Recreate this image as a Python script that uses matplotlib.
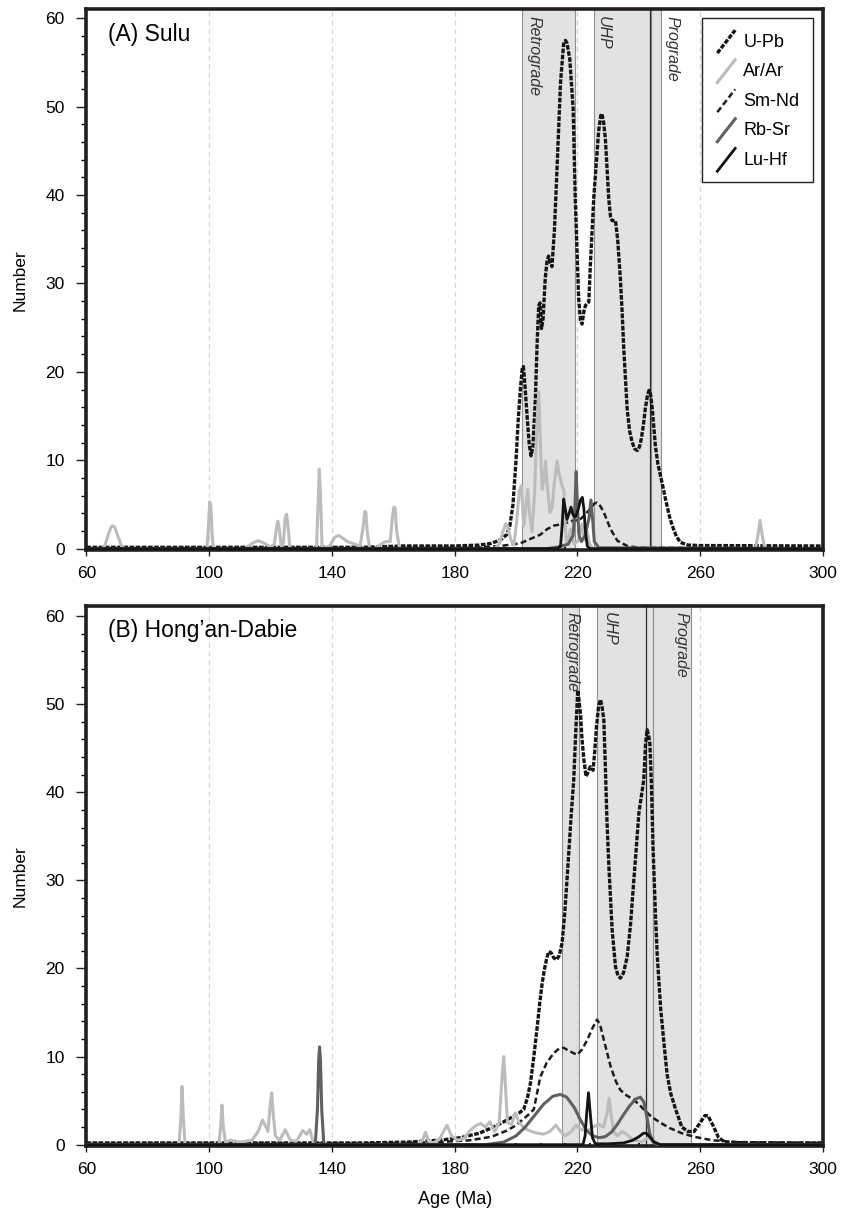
import matplotlib
matplotlib.use('Agg')
import matplotlib.pyplot as plt
from matplotlib.ticker import MultipleLocator
from matplotlib.lines import Line2D
from matplotlib.legend_handler import HandlerLine2D

plt.rcParams['font.family'] = ['Liberation Sans', 'DejaVu Sans']

# ---------------- (A) Sulu ----------------
sulu_upb_age = [60, 150, 163, 180, 188, 192, 195, 197, 198, 199, 200, 200.7, 201.4, 202.0, 202.4, 202.9,
                203.6, 204.3, 204.9, 205.5, 206.3, 206.9, 207.4, 207.8, 208.3, 208.8, 209.5, 210.1, 210.6,
                211.2, 211.7, 212.5, 213.4, 214.5, 215.5, 216.1, 216.6, 217.5, 218.6, 219.3, 220.4, 221.0,
                221.5, 222.1, 222.6, 223.7, 224.2, 225.3, 226.9, 227.6, 228.0, 228.5, 229.1, 230.2, 230.8,
                231.3, 232.4, 233.1, 234.0, 234.6, 235.1, 236.2, 237.0, 237.8, 238.6, 239.5, 240.2, 240.8,
                241.5, 242.1, 242.8, 243.3, 243.8, 244.4, 245.4, 246.2, 247.1, 248.7, 250.0, 250.9, 252.2,
                253.6, 256, 260, 300]
sulu_upb_n = [0.15, 0.15, 0.3, 0.3, 0.4, 0.6, 1.0, 1.6, 2.6, 5.0, 10.0, 14.5, 18.0, 20.3, 20.6, 18.5,
              15.0, 11.8, 10.5, 11.5, 17.0, 23.5, 27.5, 27.8, 24.9, 26.0, 30.5, 32.6, 33.1,
              32.3, 31.9, 36.0, 43.4, 52.8, 57.1, 57.5, 57.2, 55.4, 49.8, 39.6, 28.3, 25.8,
              25.4, 26.8, 27.5, 27.9, 32.0, 39.6, 47.2, 49.0, 49.2, 48.3, 46.4, 39.6, 37.5,
              37.1, 37.1, 35.0, 30.5, 26.5, 22.6, 15.8, 13.3, 12.1, 11.3, 11.1, 11.5, 12.4,
              14.0, 15.8, 17.3, 17.9, 17.5, 15.8, 11.6, 9.6, 8.2, 5.6, 3.6, 2.6, 1.4,
              0.7, 0.4, 0.35, 0.3]

sulu_smnd_age = [60, 185, 195, 199.2, 201.4, 204.7, 208, 210.1, 212.3, 215.5, 218.8, 220.5, 222.1, 224.2,
                 225.5, 226.4, 227.5, 228.6, 230.8, 233, 236.2, 240, 300]
sulu_smnd_n = [0.05, 0.1, 0.3, 0.5, 0.6, 1.1, 1.6, 2.2, 2.6, 2.8, 3.2, 3.2, 3.7, 4.5,
               5.1, 5.2, 4.8, 4.1, 2.2, 0.9, 0.3, 0.1, 0.05]

sulu_arar_age = [60, 65, 66, 67, 68, 68.6, 69.3, 70.3, 71.5, 72.5,
                 99.3, 99.8, 100.2, 100.6, 101.0, 101.4,
                 112, 114, 116, 118, 120, 121.3, 122.0, 122.4, 122.9, 123.5, 124.2, 124.8, 125.2, 125.6,
                 126.3, 127,
                 135, 135.6, 135.9, 136.3, 136.8, 138, 139.5, 141, 142.2, 143.5, 145, 147.5, 149.2, 150.2,
                 150.7, 151.1, 151.5, 152.3, 154, 156, 157.5, 159, 159.7, 160.2, 160.6, 161.1, 162, 163,
                 193, 194.5, 195.8, 196.6, 197.2, 198.3, 199.3, 200.2, 201.0, 201.7, 202.5, 203.1, 203.8,
                 204.4, 205.2, 206.0, 206.8, 207.4, 207.9, 208.5, 209.0, 209.6, 210.2, 211.0, 211.7, 212.5,
                 213.4, 214.0, 215.0, 215.6, 216.1, 216.6, 217.2, 217.7, 218.3, 219.0, 220.5, 221.5, 222.3,
                 223.2, 224.0, 225,
                 278, 278.8, 279.5, 280.2, 281, 300]
sulu_arar_n = [0, 0, 0.3, 1.4, 2.4, 2.6, 2.4, 1.4, 0.3, 0,
               0, 2.5, 5.3, 4.8, 1.5, 0,
               0, 0.6, 0.9, 0.6, 0.2, 0.5, 2.5, 3.1, 2.2, 0.3, 0.6, 3.5, 3.9, 3.0,
               0.2, 0,
               0, 6.0, 9.0, 6.0, 0.2, 0, 0.4, 1.3, 1.5, 1.2, 0.8, 0.5, 0.3, 2.5,
               4.2, 4.1, 2.0, 0, 0, 0.5, 0.8, 0.8, 3.5, 4.7, 4.6, 2.0, 0.1, 0,
               0, 0.5, 2.0, 2.8, 2.6, 1.0, 0.4, 3.0, 6.5, 7.1, 2.6, 4.5, 6.7,
               4.0, 1.9, 6.0, 14.0, 17.7, 12.0, 6.7, 7.5, 9.9, 7.0, 4.1, 4.5, 7.5,
               9.9, 8.5, 7.1, 6.5, 2.2, 0.5, 1.0, 2.2, 1.2, 0.5, 1.0, 2.8, 1.0,
               1.9, 0.5, 0,
               0, 1.5, 3.2, 1.5, 0, 0]

sulu_rbsr_age = [60, 210, 214, 217, 218.6, 219.2, 219.6, 220.0, 220.5, 221.3, 222.5, 223.8, 224.4, 224.9,
                 225.5, 227, 300]
sulu_rbsr_n = [0, 0, 0.2, 0.5, 1.5, 5.0, 8.7, 5.0, 1.5, 0.8, 1.5, 3.5, 5.5, 3.5,
               0.8, 0.1, 0]

sulu_luhf_age = [60, 213.5, 214.5, 215.0, 215.5, 215.9, 216.6, 217.3, 217.9, 218.4, 218.8, 219.4, 220.3,
                 221.0, 221.6, 222.1, 222.6, 223.2, 224, 300]
sulu_luhf_n = [0, 0, 0.3, 2.5, 5.6, 4.8, 3.3, 4.0, 4.7, 4.0, 3.7, 3.6, 4.5,
               5.5, 5.8, 4.5, 2.0, 0.3, 0, 0]

sulu_zone_names = ['Retrograde', 'UHP', 'Prograde']
sulu_zone_start = [202.0, 225.3, 243.9]
sulu_zone_end = [219.1, 243.9, 247.1]
sulu_zone_split = 243.5

# ---------------- (B) Hong'an-Dabie ----------------
hd_upb_age = [60, 150, 165, 175, 182, 188, 192, 196, 199, 201, 202.5, 203.7, 204.7, 205.8, 206.9, 207.7,
              208.5, 209.2, 209.9, 210.6, 211.4, 212.3, 213.2, 214.1, 215.0, 215.8, 216.6, 217.3, 218.0,
              218.8, 219.4, 220.1, 220.5, 221.0, 221.5, 222.1, 222.8, 223.5, 224.2, 225.1, 225.6, 226.2,
              226.9, 227.5, 228.0, 228.6, 229.1, 229.6, 230.2, 231.3, 232.4, 233.2, 234.0, 235.0, 236.2,
              237.3, 238.3, 239.2, 240.0, 240.8, 241.6, 242.2, 242.7, 243.2, 243.6, 244.1, 244.6, 245.4,
              246.0, 247.1, 248.2, 249.2, 250.4, 252.0, 254, 256, 258, 260, 261.5, 262.5, 264, 266, 268,
              275, 300]
hd_upb_n = [0.2, 0.2, 0.3, 0.5, 0.8, 1.3, 1.9, 2.6, 3.2, 3.6, 4.0, 5.3, 7.0, 10.0, 13.4, 16.0,
            18.3, 19.8, 21.0, 21.9, 21.8, 21.2, 21.0, 21.5, 22.9, 26.0, 30.0, 33.8, 37.6,
            41.4, 46.5, 51.6, 50.5, 48.9, 46.0, 43.7, 41.8, 42.3, 42.9, 42.5, 44.5, 47.4,
            49.8, 50.5, 49.8, 48.2, 42.9, 37.0, 31.9, 24.4, 20.2, 19.2, 18.9, 19.5, 21.3,
            25.0, 29.7, 33.8, 37.6, 39.5, 41.4, 45.5, 47.1, 46.5, 45.5, 41.0, 34.0, 26.3,
            21.5, 15.5, 11.5, 8.0, 5.8, 4.0, 2.0, 1.5, 1.5, 2.5, 3.3, 3.3, 2.3, 0.8, 0.3,
            0.2, 0.2]

hd_smnd_age = [60, 160, 175, 185, 192, 197, 200, 202, 204, 205.8, 207.9, 210, 212.3, 214, 215.5, 217.5,
               219.9, 221.5, 223.2, 225, 226.4, 227.4, 228.6, 230.8, 232.5, 234, 236, 238.3, 240, 241.6,
               244, 247, 250, 254, 258, 264, 272, 300]
hd_smnd_n = [0.1, 0.15, 0.3, 0.5, 0.9, 1.6, 2.2, 2.8, 3.4, 4.0, 7.7, 9.3, 10.4, 10.9, 11.0, 10.6,
             10.2, 10.8, 11.9, 13.3, 14.2, 13.6, 11.9, 8.9, 7.2, 6.2, 5.6, 5.1, 4.6, 4.0,
             3.2, 2.5, 1.9, 1.3, 0.9, 0.5, 0.3, 0.2]

hd_arar_age = [60, 90.2, 90.8, 91.2, 91.6, 92.2, 103.2, 103.8, 104.2, 104.6, 105.3, 107, 110, 114, 116,
               117.4, 118.3, 119.2, 119.9, 120.4, 120.9, 121.6, 123, 124.8, 126.5, 128.5, 130.5, 131.8,
               132.8, 134, 135, 168, 169.5, 170.5, 171.5, 173, 175, 177.5, 179, 181, 183, 185, 187, 188.5,
               190, 191.5, 193, 194.5, 195.5, 196.0, 196.5, 197.2, 198.5, 199.8, 201, 203, 205, 207, 209,
               211, 213, 214.5, 216, 218, 219.5, 221, 223, 225, 227, 228.5, 229.6, 230.3, 230.9, 231.8,
               233, 234.5, 236, 238, 241, 243, 244.5, 247, 300]
hd_arar_n = [0, 0, 3.0, 6.6, 3.0, 0, 0, 2.2, 4.5, 2.2, 0.3, 0.5, 0.3, 0.5, 1.5,
             2.8, 2.2, 1.5, 4.5, 5.9, 3.5, 1.0, 0.5, 1.7, 0.5, 0.4, 1.6, 1.2,
             1.7, 0.2, 0, 0, 0.5, 1.4, 0.4, 0.2, 0.6, 2.2, 1.0, 0.5, 0.7, 1.6, 2.2, 2.4,
             2.0, 2.6, 1.5, 2.5, 8.0, 10.0, 7.0, 2.5, 2.3, 3.6, 2.5, 1.8, 1.5, 1.3, 1.2,
             1.5, 2.2, 1.5, 1.0, 1.5, 2.2, 1.8, 1.5, 2.0, 2.3, 2.0, 3.5, 5.3, 3.5, 1.5,
             1.0, 1.5, 1.2, 0.6, 0.3, 0.8, 0.5, 0, 0]

hd_rbsr_age = [60, 134.6, 135.3, 135.7, 136.0, 136.3, 136.7, 137.4, 190, 196, 200, 203, 206, 209, 212,
               214.4, 216.5, 219, 221, 223, 225, 227, 229, 231, 233, 235, 237, 239, 240.5, 241.7, 242.7,
               243.6, 244.6, 246, 300]
hd_rbsr_n = [0, 0, 4.0, 9.5, 11.1, 9.5, 4.0, 0, 0, 0.3, 1.0, 2.0, 3.3, 4.6, 5.5,
             5.7, 5.4, 4.2, 2.8, 1.6, 1.0, 0.8, 0.9, 1.4, 2.3, 3.4, 4.4, 5.2, 5.4, 4.8, 3.0,
             1.2, 0.3, 0, 0]

hd_luhf_age = [60, 221.8, 222.5, 223.0, 223.6, 224.2, 224.9, 225.8, 230, 235, 238, 240, 241.5, 242.5,
               243.5, 245, 247, 300]
hd_luhf_n = [0, 0, 1.0, 3.5, 5.9, 3.5, 0.8, 0.1, 0.1, 0.2, 0.5, 0.9, 1.3, 1.3,
             0.9, 0.3, 0, 0]

hd_zone_names = ['Retrograde', 'UHP', 'Prograde']
hd_zone_start = [215.0, 226.4, 244.5]
hd_zone_end = [220.6, 244.5, 257.1]
hd_zone_split = 242.4

method_names = ['U-Pb', 'Ar/Ar', 'Sm-Nd', 'Rb-Sr', 'Lu-Hf']

STYLES = {
    'U-Pb': dict(color='#151515', lw=2.4, dashes=(1.4, 0.45), zorder=3),
    'Ar/Ar': dict(color='#bcbcbc', lw=2.2, zorder=4),
    'Sm-Nd': dict(color='#1c1c1c', lw=1.8, dashes=(2.4, 1.3), zorder=3.5),
    'Rb-Sr': dict(color='#606060', lw=2.2, zorder=4.5),
    'Lu-Hf': dict(color='#141414', lw=2.0, zorder=5),
}


class SlashHandler(HandlerLine2D):
    # legend keys are short slanted strokes
    def create_artists(self, legend, orig_handle, xdescent, ydescent, width, height, fontsize, trans):
        x0 = -xdescent
        y0 = -ydescent
        line = Line2D([x0 + 0.1 * width, x0 + width], [y0 - 0.15 * height, y0 + 1.05 * height])
        self.update_prop(line, orig_handle, legend)
        line.set_transform(trans)
        return [line]


def draw_panel(ax, series, names, starts, ends, split, title, label_x, top):
	for s, e in zip(starts, ends):
		ax.axvspan(s, e, color='#e1e2e4', zorder=0.2, lw=0)
		ax.axvline(s, color='#8f8f8f', lw=0.8, zorder=0.3)
		ax.axvline(e, color='#8f8f8f', lw=0.8, zorder=0.3)
	ax.axvline(split, color='#2a2a2a', lw=0.9, zorder=0.3)

	for name, lx in zip(names, label_x):
		ax.text(lx, 0.988, name, transform=ax.get_xaxis_transform(), rotation=270,
				ha='left', va='top', fontsize=11.5, style='italic', color='#333333', zorder=6)

	for m in method_names:
		age, n = series[m]
		ax.plot(age, n, solid_capstyle='round', solid_joinstyle='round', **STYLES[m])

	ax.set_xlim(60, 300)
	ax.set_ylim(-0.2, top)
	ax.set_xticks(range(60, 301, 40))
	ax.xaxis.set_minor_locator(MultipleLocator(8))
	ax.set_yticks(range(0, 61, 10))
	ax.yaxis.set_minor_locator(MultipleLocator(2))
	ax.tick_params(axis='both', which='major', labelsize=12.5, color='#231f20')
	ax.tick_params(axis='y', which='major', direction='out', length=7.5, width=1.0, pad=8)
	ax.tick_params(axis='y', which='minor', direction='out', length=3.5, width=1.0)
	ax.tick_params(axis='x', which='major', direction='out', length=4, width=1.0, pad=7)
	ax.tick_params(axis='x', which='minor', direction='in', length=2.5, width=1.3)
	ax.set_axisbelow(True)
	ax.grid(axis='x', which='major', color='#d6d6d6', lw=0.9, linestyle=(0, (4, 3)))
	for sp in ax.spines.values():
		sp.set_linewidth(2.6)
		sp.set_color('#231f20')
	ax.set_ylabel('Number', fontsize=12.5, labelpad=13)
	ax.text(0.029, 0.975, title, transform=ax.transAxes, ha='left', va='top', fontsize=16.5)


def main():
	fig = plt.figure(figsize=(8.41, 12.11), dpi=100)
	ax1 = fig.add_axes([0.1026, 0.5455, 0.8760, 0.4467])
	ax2 = fig.add_axes([0.1026, 0.0533, 0.8760, 0.4467])

	sulu = {
		'U-Pb': (sulu_upb_age, sulu_upb_n),
		'Ar/Ar': (sulu_arar_age, sulu_arar_n),
		'Sm-Nd': (sulu_smnd_age, sulu_smnd_n),
		'Rb-Sr': (sulu_rbsr_age, sulu_rbsr_n),
		'Lu-Hf': (sulu_luhf_age, sulu_luhf_n),
	}
	dabie = {
		'U-Pb': (hd_upb_age, hd_upb_n),
		'Ar/Ar': (hd_arar_age, hd_arar_n),
		'Sm-Nd': (hd_smnd_age, hd_smnd_n),
		'Rb-Sr': (hd_rbsr_age, hd_rbsr_n),
		'Lu-Hf': (hd_luhf_age, hd_luhf_n),
	}

	draw_panel(ax1, sulu, sulu_zone_names, sulu_zone_start, sulu_zone_end, sulu_zone_split,
			   '(A) Sulu', [203.3, 225.9, 248.5], 61.0)
	draw_panel(ax2, dabie, hd_zone_names, hd_zone_start, hd_zone_end, hd_zone_split,
			   '(B) Hong\u2019an-Dabie', [215.8, 227.9, 251.4], 61.2)
	ax2.set_xlabel('Age (Ma)', fontsize=13, labelpad=10)

	handles = [Line2D([], [], **{k: v for k, v in STYLES[m].items() if k != 'zorder'}) for m in method_names]
	leg = ax1.legend(handles, method_names, loc='upper right', bbox_to_anchor=(0.9864, 0.985),
					 borderaxespad=0, fontsize=13, frameon=True, fancybox=False, framealpha=1,
					 edgecolor='#231f20', handlelength=1.1, handleheight=1.25, handletextpad=0.45,
					 labelspacing=0.55, borderpad=0.75,
					 handler_map={Line2D: SlashHandler()})
	leg.get_frame().set_linewidth(1.0)
	leg.set_zorder(10)

	fig.savefig('out.png', dpi=100)


if __name__ == '__main__':

	main()
